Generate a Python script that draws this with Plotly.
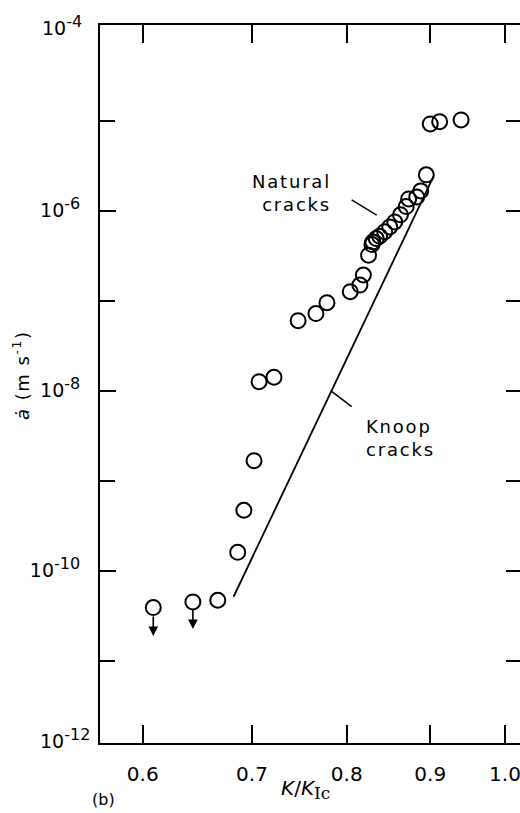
import numpy as np
import plotly.graph_objects as go

# Crack velocity data for natural cracks (K/K_Ic, velocity in m/s)
k_natural = [0.609, 0.644, 0.667, 0.686, 0.692, 0.702, 0.707, 0.722, 0.747,
             0.766, 0.778, 0.804, 0.815, 0.819, 0.825, 0.829, 0.830, 0.834,
             0.838, 0.844, 0.850, 0.856, 0.863, 0.870, 0.873, 0.883, 0.888,
             0.895, 0.900, 0.912, 0.940]
v_natural = [3.9e-11, 4.5e-11, 4.7e-11, 1.6e-10, 4.7e-10, 1.67e-9, 1.26e-8,
             1.41e-8, 6.0e-8, 7.2e-8, 9.5e-8, 1.26e-7, 1.49e-7, 1.93e-7,
             3.2e-7, 4.2e-7, 4.5e-7, 4.9e-7, 5.2e-7, 5.85e-7, 6.6e-7, 7.5e-7,
             9.0e-7, 1.11e-6, 1.35e-6, 1.42e-6, 1.66e-6, 2.5e-6, 9.2e-6,
             9.75e-6, 1.02e-5]

# Upper-bound points (velocity below detection limit) and their arrow tips
k_bound = [0.609, 0.644]
v_bound_tip = [1.88e-11, 2.25e-11]

# Knoop crack fit line
k_knoop = [0.682, 0.904]
v_knoop = [5.14e-11, 2.39e-6]

# Leader lines for the two labels
k_lead_nat = [0.8056, 0.8345]
v_lead_nat = [1.315e-6, 8.95e-7]
k_lead_knoop = [0.7835, 0.8056]
v_lead_knoop = [9.75e-9, 6.64e-9]

x_ticks = [0.6, 0.7, 0.8, 0.9, 1.0]
x_ticktext = ["0.6", "0.7", "0.8", "0.9", "1.0"]
y_major_exps = [-10, -8, -6]
y_minor_exps = [-11, -9, -7, -5]

FONT = "DejaVu Sans"
W, H = 520, 813
ML, MR, MT, MB = 100, 0, 25, 70
PW, PH = W - ML - MR, H - MT - MB


def power_label(e):
    return f"10<sup><span style='font-size:16px'>{e}</span></sup>"


fig = go.Figure()

fig.add_trace(go.Scatter(x=k_knoop, y=v_knoop, mode="lines",
                         line=dict(color="black", width=1.8),
                         hoverinfo="skip", showlegend=False))
for kx, vy in ((k_lead_nat, v_lead_nat), (k_lead_knoop, v_lead_knoop)):
    fig.add_trace(go.Scatter(x=kx, y=vy, mode="lines",
                             line=dict(color="black", width=1.5),
                             hoverinfo="skip", showlegend=False))

fig.add_trace(go.Scatter(x=k_natural, y=v_natural, mode="markers",
                         marker=dict(symbol="circle-open", size=15,
                                     color="black", line=dict(width=2)),
                         showlegend=False))

# Right-hand y ticks without an axis line
fig.add_trace(go.Scatter(x=[k_natural[0]], y=[v_natural[0]], yaxis="y2",
                         mode="markers", marker=dict(opacity=0),
                         hoverinfo="skip", showlegend=False))

annotations = []
for kx, tip in zip(k_bound, v_bound_tip):
    annotations.append(dict(x=np.log10(kx), y=np.log10(tip), xref="x", yref="y",
                            ax=0, ay=-21, axref="pixel", ayref="pixel",
                            text="", showarrow=True, arrowhead=2, arrowsize=1.2,
                            arrowwidth=1.6, arrowcolor="black"))

ls = "letter-spacing:1.8px"
annotations += [
    dict(x=-0.1053, y=-5.80, xref="x", yref="y", xanchor="right", yanchor="middle",
         align="right", showarrow=False,
         text=f"<span style='{ls}'>Natural</span><br><span style='{ls}'>cracks</span>",
         font=dict(family=FONT, size=18, color="black")),
    dict(x=-0.0863, y=-8.53, xref="x", yref="y", xanchor="left", yanchor="middle",
         align="left", showarrow=False,
         text=f"<span style='{ls}'>Knoop</span><br><span style='{ls}'>cracks</span>",
         font=dict(family=FONT, size=18, color="black")),
    # corner decade labels
    dict(x=0, y=1, xref="paper", yref="paper", xanchor="right", yanchor="middle",
         xshift=-16, showarrow=False, text=power_label(-4),
         font=dict(family=FONT, size=19, color="black")),
    dict(x=0, y=0, xref="paper", yref="paper", xanchor="right", yanchor="middle",
         xshift=-8, yshift=5, showarrow=False, text=power_label(-12),
         font=dict(family=FONT, size=19, color="black")),
    # axis titles
    dict(x=(21 - ML) / PW, y=1 - (375 - MT) / PH, xref="paper", yref="paper",
         showarrow=False, textangle=-90, xanchor="center", yanchor="middle",
         text="<span style='letter-spacing:1.5px'><i>ȧ</i> (m s<sup>-1</sup>)</span>",
         font=dict(family=FONT, size=18, color="black")),
    dict(x=(305 - ML) / PW, y=-47 / PH, xref="paper", yref="paper",
         showarrow=False, xanchor="center", yanchor="middle",
         text="<i>K</i>/<i>K</i><sub><span style='font-family:DejaVu Serif;font-size:17px'>Ic</span></sub>",
         font=dict(family=FONT, size=20, color="black")),
    dict(x=(103 - ML) / PW, y=-57 / PH, xref="paper", yref="paper",
         showarrow=False, xanchor="center", yanchor="middle", text="(b)",
         font=dict(family=FONT, size=16, color="black")),
]

y_range = [-11.914, -3.937]
x_range = [-0.248, 0.0092]
tick_style = dict(ticks="inside", tickwidth=1.5, tickcolor="black")

fig.update_layout(
    width=W, height=H,
    margin=dict(l=ML, r=MR, t=MT, b=MB),
    paper_bgcolor="white", plot_bgcolor="white",
    font=dict(family=FONT, size=19, color="black"),
    xaxis=dict(type="log", range=x_range, tickvals=x_ticks, ticktext=x_ticktext,
               ticklen=18, **tick_style, ticklabeloverflow="allow",
               showline=True, linecolor="black", linewidth=2, mirror="ticks",
               showgrid=False, zeroline=False, ticklabelstandoff=12,
               tickfont=dict(family=FONT, size=20)),
    yaxis=dict(type="log", range=y_range,
               tickvals=[10.0 ** e for e in y_major_exps],
               ticktext=[power_label(e) for e in y_major_exps],
               ticklen=16, **tick_style,
               minor=dict(tickvals=[10.0 ** e for e in y_minor_exps],
                          ticklen=15, **tick_style),
               showline=True, linecolor="black", linewidth=2,
               showgrid=False, zeroline=False, ticklabelstandoff=14,
               tickfont=dict(family=FONT, size=19)),
    yaxis2=dict(type="log", range=y_range, overlaying="y", side="right",
                tickvals=[10.0 ** e for e in y_major_exps], showticklabels=False,
                ticklen=14, **tick_style,
                minor=dict(tickvals=[10.0 ** e for e in y_minor_exps],
                           ticklen=14, **tick_style),
                showline=False, showgrid=False, zeroline=False),
    annotations=annotations,
)

fig.write_html("out.html")
